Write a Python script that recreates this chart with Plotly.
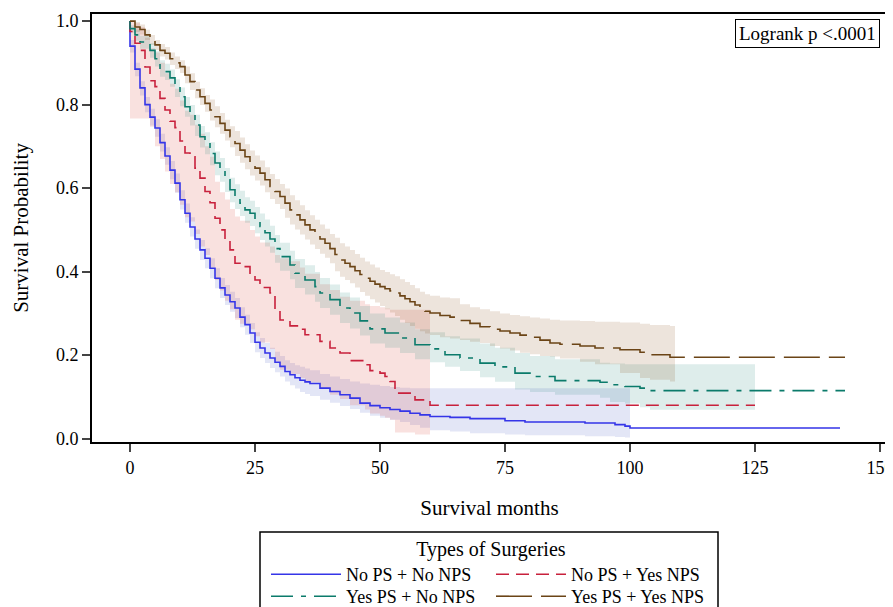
import plotly.graph_objects as go

# ---------------- data ----------------
groups = ["No PS + No NPS", "No PS + Yes NPS", "Yes PS + No NPS", "Yes PS + Yes NPS"]

# No PS + No NPS
t_nn = [0, 0, 1, 2, 3, 4, 5, 6, 7, 8, 9, 10, 11, 12, 13, 14, 15, 16, 17, 18, 19, 20, 21, 22, 23, 24, 25,
        26, 27, 28, 29, 30, 31, 32, 33, 34, 35, 36, 38, 40, 42, 44, 46, 48, 50, 52, 54, 56, 58, 60, 64, 68,
        75, 79, 91, 97, 99, 100]
s_nn = [1.0, 0.94, 0.885, 0.84, 0.80, 0.77, 0.744, 0.709, 0.677, 0.643, 0.612, 0.572, 0.54, 0.507, 0.478,
        0.452, 0.432, 0.408, 0.384, 0.361, 0.344, 0.328, 0.313, 0.291, 0.273, 0.253, 0.231, 0.217, 0.205,
        0.193, 0.183, 0.173, 0.161, 0.153, 0.146, 0.140, 0.136, 0.132, 0.121, 0.113, 0.105, 0.097, 0.085,
        0.079, 0.074, 0.070, 0.066, 0.061, 0.057, 0.053, 0.051, 0.048, 0.043, 0.040, 0.0375, 0.0335, 0.030,
        0.0255]
lo_nn = [1.0, 0.925, 0.868, 0.822, 0.782, 0.75, 0.723, 0.688, 0.656, 0.621, 0.589, 0.549, 0.517, 0.484,
         0.455, 0.428, 0.408, 0.384, 0.360, 0.337, 0.320, 0.304, 0.289, 0.267, 0.249, 0.229, 0.207, 0.193,
         0.181, 0.169, 0.159, 0.149, 0.137, 0.128, 0.120, 0.112, 0.107, 0.102, 0.093, 0.086, 0.078, 0.071,
         0.062, 0.055, 0.050, 0.045, 0.040, 0.033, 0.026, 0.020, 0.017, 0.013, 0.010, 0.008, 0.006, 0.004,
         0.003, 0.002]
hi_nn = [1.0, 0.955, 0.90, 0.856, 0.818, 0.79, 0.765, 0.73, 0.698, 0.665, 0.635, 0.595, 0.563, 0.53, 0.501,
         0.476, 0.456, 0.432, 0.408, 0.385, 0.368, 0.352, 0.337, 0.315, 0.297, 0.277, 0.255, 0.241, 0.229,
         0.218, 0.208, 0.198, 0.188, 0.181, 0.176, 0.172, 0.168, 0.164, 0.155, 0.149, 0.143, 0.137, 0.132,
         0.129, 0.126, 0.124, 0.122, 0.121, 0.121, 0.121, 0.121, 0.121, 0.121, 0.121, 0.121, 0.121, 0.121,
         0.121]
end_nn, band_end_nn = 142, 100

# No PS + Yes NPS
t_ny = [0, 0, 1, 2, 3, 4, 5, 6, 7, 8, 9, 10, 11, 12, 13, 14, 15, 16, 17, 18, 19, 20, 21, 22, 24, 25, 26,
        28, 29, 30, 32, 34, 35, 38, 40, 42, 44, 47, 48, 50, 51, 52, 53, 57, 60]
s_ny = [1.0, 0.975, 0.947, 0.93, 0.89, 0.857, 0.843, 0.815, 0.787, 0.76, 0.745, 0.713, 0.684, 0.675, 0.648,
        0.624, 0.592, 0.565, 0.528, 0.500, 0.476, 0.452, 0.420, 0.412, 0.396, 0.380, 0.362, 0.349, 0.308,
        0.284, 0.270, 0.262, 0.249, 0.233, 0.217, 0.205, 0.187, 0.177, 0.163, 0.157, 0.149, 0.137, 0.109,
        0.093, 0.080]
lo_ny = [1.0, 0.767, 0.767, 0.767, 0.767, 0.747, 0.70, 0.67, 0.64, 0.61, 0.59, 0.56, 0.53, 0.52, 0.49, 0.46,
         0.44, 0.41, 0.38, 0.355, 0.33, 0.31, 0.285, 0.275, 0.262, 0.245, 0.23, 0.215, 0.185, 0.165, 0.155,
         0.145, 0.135, 0.12, 0.105, 0.095, 0.08, 0.07, 0.06, 0.055, 0.05, 0.045, 0.015, 0.01, 0.006]
hi_ny = [1.0, 1.0, 0.995, 0.985, 0.96, 0.935, 0.925, 0.90, 0.875, 0.85, 0.838, 0.81, 0.785, 0.776, 0.752,
         0.73, 0.70, 0.675, 0.615, 0.59, 0.573, 0.55, 0.532, 0.522, 0.50, 0.484, 0.47, 0.46, 0.44, 0.432,
         0.425, 0.41, 0.395, 0.37, 0.356, 0.34, 0.33, 0.322, 0.318, 0.315, 0.312, 0.309, 0.309, 0.309, 0.309]
end_ny, band_end_ny = 125, 60

# Yes PS + No NPS
t_yn = [0, 0, 1, 2, 4, 5, 6, 7, 8, 9, 10, 11, 12, 13, 14, 15, 16, 17, 18, 19, 20, 21, 22, 23, 24, 25, 26,
        27, 28, 29, 30, 32, 33, 35, 37, 38, 40, 42, 44, 46, 48, 51, 54, 57, 60, 63, 66, 70, 73, 77, 80, 85,
        94, 96, 99, 102, 104]
s_yn = [1.0, 0.982, 0.967, 0.95, 0.93, 0.91, 0.887, 0.879, 0.864, 0.84, 0.819, 0.795, 0.775, 0.751, 0.723,
        0.708, 0.683, 0.66, 0.644, 0.62, 0.596, 0.58, 0.564, 0.548, 0.54, 0.524, 0.508, 0.493, 0.478, 0.455,
        0.436, 0.416, 0.396, 0.38, 0.364, 0.349, 0.333, 0.313, 0.301, 0.282, 0.263, 0.253, 0.241, 0.225,
        0.215, 0.201, 0.193, 0.181, 0.172, 0.157, 0.149, 0.139, 0.135, 0.129, 0.125, 0.121, 0.115]
lo_yn = [1.0, 0.972, 0.953, 0.934, 0.912, 0.891, 0.867, 0.859, 0.843, 0.818, 0.796, 0.771, 0.75, 0.725,
         0.697, 0.681, 0.655, 0.631, 0.615, 0.591, 0.566, 0.55, 0.533, 0.517, 0.509, 0.492, 0.476, 0.46,
         0.445, 0.421, 0.402, 0.382, 0.361, 0.345, 0.328, 0.313, 0.297, 0.277, 0.264, 0.247, 0.228, 0.218,
         0.205, 0.19, 0.183, 0.172, 0.162, 0.147, 0.136, 0.118, 0.112, 0.105, 0.098, 0.088, 0.084, 0.075,
         0.069]
hi_yn = [1.0, 0.99, 0.98, 0.965, 0.947, 0.928, 0.906, 0.898, 0.884, 0.861, 0.841, 0.818, 0.799, 0.776,
         0.749, 0.734, 0.71, 0.688, 0.672, 0.648, 0.625, 0.609, 0.594, 0.578, 0.57, 0.555, 0.539, 0.525,
         0.51, 0.488, 0.469, 0.45, 0.43, 0.415, 0.399, 0.385, 0.369, 0.35, 0.338, 0.318, 0.30, 0.29, 0.278,
         0.262, 0.255, 0.245, 0.24, 0.228, 0.218, 0.205, 0.198, 0.19, 0.182, 0.18, 0.178, 0.178, 0.178]
end_yn, band_end_yn = 143, 125

# Yes PS + Yes NPS
t_yy = [0, 1, 2, 3, 4, 5, 6, 7, 8, 9, 10, 11, 12, 13, 14, 15, 16, 17, 18, 19, 20, 21, 22, 23, 24, 25, 26,
        27, 28, 29, 30, 31, 32, 33, 34, 35, 36, 37, 38, 39, 40, 41, 42, 43, 44, 45, 46, 47, 48, 49, 50, 51,
        52, 53, 54, 55, 56, 57, 58, 59, 60, 62, 64, 66, 68, 70, 72, 74, 76, 78, 80, 82, 84, 86, 90, 93, 98,
        102, 104, 108]
s_yy = [1.0, 0.986, 0.98, 0.967, 0.955, 0.943, 0.93, 0.923, 0.91, 0.90, 0.891, 0.871, 0.855, 0.835, 0.819,
        0.803, 0.787, 0.771, 0.755, 0.739, 0.723, 0.707, 0.691, 0.675, 0.660, 0.648, 0.636, 0.620, 0.604,
        0.592, 0.580, 0.564, 0.548, 0.536, 0.524, 0.512, 0.500, 0.489, 0.478, 0.468, 0.455, 0.441, 0.428,
        0.420, 0.412, 0.402, 0.393, 0.384, 0.377, 0.370, 0.364, 0.359, 0.354, 0.349, 0.342, 0.335, 0.328,
        0.320, 0.312, 0.305, 0.301, 0.295, 0.291, 0.283, 0.276, 0.268, 0.262, 0.258, 0.253, 0.248, 0.243,
        0.236, 0.229, 0.226, 0.222, 0.217, 0.213, 0.207, 0.201, 0.195]
lo_yy = [1.0, 0.974, 0.968, 0.955, 0.943, 0.931, 0.915, 0.908, 0.895, 0.885, 0.876, 0.851, 0.835, 0.815,
         0.799, 0.783, 0.762, 0.746, 0.73, 0.714, 0.698, 0.677, 0.661, 0.645, 0.63, 0.618, 0.606, 0.59,
         0.574, 0.562, 0.55, 0.529, 0.513, 0.501, 0.489, 0.477, 0.465, 0.454, 0.443, 0.433, 0.42, 0.401,
         0.388, 0.38, 0.372, 0.362, 0.351, 0.342, 0.334, 0.326, 0.318, 0.31, 0.302, 0.294, 0.285, 0.277,
         0.27, 0.263, 0.257, 0.252, 0.248, 0.243, 0.24, 0.236, 0.232, 0.229, 0.222, 0.216, 0.211, 0.206,
         0.202, 0.198, 0.197, 0.192, 0.184, 0.178, 0.157, 0.145, 0.141, 0.137]
hi_yy = [1.0, 0.998, 0.992, 0.979, 0.967, 0.955, 0.945, 0.938, 0.925, 0.915, 0.906, 0.891, 0.875, 0.855,
         0.839, 0.823, 0.812, 0.796, 0.78, 0.764, 0.748, 0.737, 0.721, 0.705, 0.69, 0.678, 0.666, 0.65,
         0.634, 0.622, 0.61, 0.599, 0.583, 0.571, 0.559, 0.547, 0.535, 0.524, 0.513, 0.503, 0.49, 0.481,
         0.468, 0.46, 0.452, 0.442, 0.433, 0.424, 0.417, 0.41, 0.404, 0.399, 0.394, 0.389, 0.382, 0.375,
         0.368, 0.36, 0.352, 0.346, 0.342, 0.338, 0.336, 0.322, 0.315, 0.31, 0.305, 0.3, 0.296, 0.293,
         0.29, 0.288, 0.285, 0.283, 0.282, 0.28, 0.278, 0.275, 0.272, 0.27]
end_yy, band_end_yy = 143, 109

x_ticks = [0, 25, 50, 75, 100, 125, 150]
y_ticks = [0.0, 0.2, 0.4, 0.6, 0.8, 1.0]

# ---------------- styling ----------------
FONT = "Liberation Serif, Times New Roman, serif"
line_colors = ["#3535e8", "#c8213c", "#0b7b6b", "#6b4416"]
fill_colors = ["rgba(55,75,190,0.14)", "rgba(215,40,30,0.14)",
               "rgba(22,125,115,0.14)", "rgba(125,65,5,0.14)"]
dashes = ["solid", "13px,7px", "22px,8px,5px,8px", "36px,9px"]
legends = ["legend", "legend", "legend2", "legend2"]

series = [
    (t_nn, s_nn, lo_nn, hi_nn, end_nn, band_end_nn),
    (t_ny, s_ny, lo_ny, hi_ny, end_ny, band_end_ny),
    (t_yn, s_yn, lo_yn, hi_yn, end_yn, band_end_yn),
    (t_yy, s_yy, lo_yy, hi_yy, end_yy, band_end_yy),
]

fig = go.Figure()

# confidence bands
for i, (t, s, lo, hi, end, bend) in enumerate(series):
    bt, blo, bhi = list(t), list(lo), list(hi)
    if bend > bt[-1]:
        bt.append(bend); blo.append(lo[-1]); bhi.append(hi[-1])
    fig.add_trace(go.Scatter(x=bt, y=blo, mode="lines", line=dict(width=0, shape="hv"),
                             showlegend=False, hoverinfo="skip"))
    fig.add_trace(go.Scatter(x=bt, y=bhi, mode="lines", line=dict(width=0, shape="hv"),
                             fill="tonexty", fillcolor=fill_colors[i],
                             showlegend=False, hoverinfo="skip"))

# survival curves
for i, (t, s, lo, hi, end, bend) in enumerate(series):
    lt = list(t) + [end]
    ls = list(s) + [s[-1]]
    fig.add_trace(go.Scatter(x=lt, y=ls, mode="lines", name=groups[i],
                             line=dict(color=line_colors[i], width=1.6, dash=dashes[i], shape="hv"),
                             legend=legends[i]))

# the page places the figure 8px right/down (body margin); plot area on page: x 92..887, y 14..442
def px_x(p):  # page pixel -> paper x
    return (p - 92) / 795.0

def px_y(p):  # page pixel -> paper y
    return (442 - p) / 428.0

fig.update_layout(
    width=893, height=607,
    margin=dict(l=84, r=14, t=6, b=173, autoexpand=False),
    paper_bgcolor="white", plot_bgcolor="white",
    font=dict(family=FONT, size=18, color="black"),
    xaxis=dict(range=[-7.6, 151.4], tickvals=x_ticks, ticks="outside", ticklen=8, tickwidth=2,
               showline=True, linewidth=2, linecolor="black", mirror=True, showgrid=False,
               zeroline=False, tickfont=dict(size=18), automargin=False,
               title=dict(text="Survival months", font=dict(size=21), standoff=24)),
    yaxis=dict(range=[-0.008, 1.017], tickvals=y_ticks, tickformat=".1f", ticks="outside",
               ticklen=8, tickwidth=2, showline=True, linewidth=2, linecolor="black", mirror=True,
               showgrid=False, zeroline=False, tickfont=dict(size=18), automargin=False,
               title=dict(text="Survival Probability", font=dict(size=21), standoff=22)),
    legend=dict(orientation="h", x=px_x(266), xanchor="left", y=px_y(530), yanchor="top",
                entrywidth=140, itemwidth=70, bgcolor="rgba(0,0,0,0)", font=dict(size=18),
                traceorder="normal",
                title=dict(text="Types of Surgeries", side="top center", font=dict(size=20)),
                tracegroupgap=0),
    legend2=dict(orientation="h", x=px_x(266), xanchor="left", y=px_y(578), yanchor="top",
                 entrywidth=140, itemwidth=70, bgcolor="rgba(0,0,0,0)", font=dict(size=18),
                 traceorder="normal"),
    showlegend=True,
    shapes=[dict(type="rect", xref="paper", yref="paper", x0=px_x(260), x1=px_x(718),
                 y0=px_y(532), y1=px_y(640), line=dict(color="black", width=1.5),
                 fillcolor="rgba(0,0,0,0)")],
    annotations=[dict(text="Logrank p <.0001", xref="paper", yref="paper", x=px_x(880), y=px_y(19),
                      xanchor="right", yanchor="top", showarrow=False, font=dict(size=19),
                      bordercolor="black", borderwidth=1, borderpad=3, bgcolor="white")],
)

fig.write_html("out.html")
